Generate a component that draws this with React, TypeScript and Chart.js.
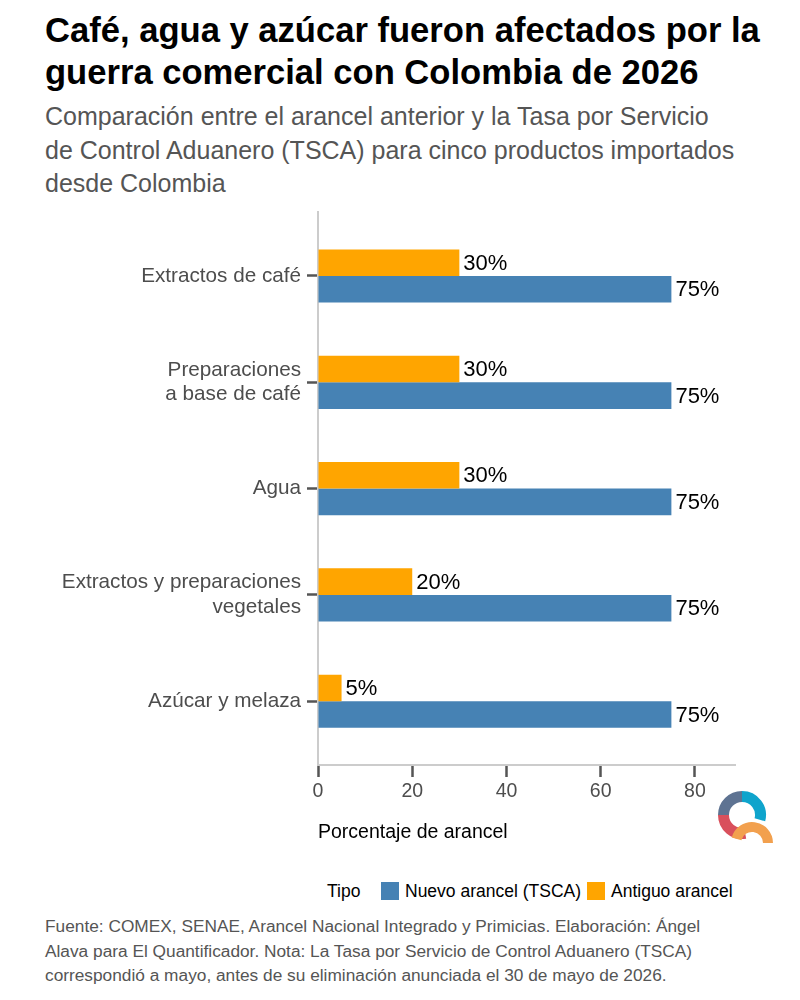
import React, { useEffect, useRef } from "react";
import { Chart, registerables } from "chart.js";

Chart.register(...registerables);

// Product categories (multi-line tick labels) and tariff values in percent
const categories: string[][] = [
  ["Extractos de café"],
  ["Preparaciones", "a base de café"],
  ["Agua"],
  ["Extractos y preparaciones", "vegetales"],
  ["Azúcar y melaza"],
];
const newTariff = [75, 75, 75, 75, 75];
const oldTariff = [30, 30, 30, 20, 5];
const xTicks = [0, 20, 40, 60, 80];
const seriesNames = ["Nuevo arancel (TSCA)", "Antiguo arancel"];
const seriesColors = ["#4682B4", "#FFA500"];

const FONT = "'Liberation Sans', Arial, Helvetica, sans-serif";

const titleLines = [
  "Café, agua y azúcar fueron afectados por la",
  "guerra comercial con Colombia de 2026",
];
const subtitleLines = [
  "Comparación entre el arancel anterior y la Tasa por Servicio",
  "de Control Aduanero (TSCA) para cinco productos importados",
  "desde Colombia",
];
const captionLines = [
  "Fuente: COMEX, SENAE, Arancel Nacional Integrado y Primicias. Elaboración: Ángel",
  "Alava para El Quantificador. Nota: La Tasa por Servicio de Control Aduanero (TSCA)",
  "correspondió a mayo, antes de su eliminación anunciada el 30 de mayo de 2026.",
];

// Writes "NN%" just past the end of each bar
const valueLabels = {
  id: "valueLabels",
  afterDatasetsDraw(chart: any) {
    const ctx = chart.ctx;
    ctx.save();
    ctx.font = `22px ${FONT}`;
    ctx.fillStyle = "#000";
    ctx.textAlign = "left";
    ctx.textBaseline = "middle";
    chart.data.datasets.forEach((ds: any, di: number) => {
      const meta = chart.getDatasetMeta(di);
      meta.data.forEach((bar: any, i: number) => {
        const v = ds.data[i].x;
        ctx.fillText(`${v}%`, bar.x + 4, bar.y + 1);
      });
    });
    ctx.restore();
  },
};

function Logo() {
  const pt = (a: number, rr: number, ox: number, oy: number) => {
    const t = (a * Math.PI) / 180;
    return `${ox + rr * Math.cos(t)} ${oy + rr * Math.sin(t)}`;
  };
  const arc = (a0: number, a1: number, rr: number, ox: number, oy: number) =>
    `M ${pt(a0, rr, ox, oy)} A ${rr} ${rr} 0 ${Math.abs(a1 - a0) > 180 ? 1 : 0} 1 ${pt(a1, rr, ox, oy)}`;
  const cx = 742;
  const cy = 815;
  const r = 18.5;
  return (
    <svg
      width={800}
      height={1000}
      style={{ position: "absolute", left: 0, top: 0, pointerEvents: "none" }}
    >
      <path d={arc(180, 270, r, cx, cy)} stroke="#5E7392" strokeWidth={11} fill="none" />
      <path d={arc(270, 375, r, cx, cy)} stroke="#0FA4CC" strokeWidth={11} fill="none" />
      <path d={arc(80, 180, r, cx, cy)} stroke="#D9505C" strokeWidth={11} fill="none" />
      <path d={arc(195, 360, 16, 752, 843)} stroke="#F2A04E" strokeWidth={10} fill="none" />
    </svg>
  );
}

export default function App() {
  const canvasRef = useRef<HTMLCanvasElement | null>(null);

  useEffect(() => {
    document.body.style.margin = "0";
    const canvas = canvasRef.current;
    if (!canvas) return;

    const chart = new Chart(canvas, {
      type: "bar",
      data: {
        datasets: [
          {
            label: seriesNames[1],
            data: oldTariff.map((v, i) => ({ x: v, y: i })),
            backgroundColor: seriesColors[1],
            borderWidth: 0,
          },
          {
            label: seriesNames[0],
            data: newTariff.map((v, i) => ({ x: v, y: i })),
            backgroundColor: seriesColors[0],
            borderWidth: 0,
          },
        ],
      },
      options: {
        indexAxis: "y",
        responsive: false,
        animation: false,
        maintainAspectRatio: false,
        categoryPercentage: 0.5,
        barPercentage: 1,
        layout: { padding: { top: 0, right: 65, left: 0, bottom: 0 } },
        plugins: {
          legend: { display: false },
          tooltip: { enabled: false },
          title: { display: false },
        },
        scales: {
          x: {
            type: "linear",
            position: "bottom",
            min: 0,
            max: 88.5,
            offset: false,
            afterBuildTicks: (s: any) => {
              s.ticks = xTicks.map((v) => ({ value: v }));
            },
            afterFit: (s: any) => {
              s.height = 55;
            },
            grid: {
              offset: false,
              drawOnChartArea: false,
              drawTicks: true,
              tickLength: 12,
              tickWidth: 2.5,
              tickColor: "#555",
            },
            border: { display: true, color: "#cccccc", width: 2 },
            ticks: {
              color: "#4d4d4d",
              font: { family: FONT, size: 19.5 },
              padding: 3,
              maxRotation: 0,
            },
          },
          y: {
            type: "linear",
            min: -0.6,
            max: 4.6,
            reverse: true,
            offset: false,
            z: 1,
            afterBuildTicks: (s: any) => {
              s.ticks = categories.map((_, i) => ({ value: i }));
            },
            afterFit: (s: any) => {
              s.width = 318;
            },
            grid: {
              offset: false,
              drawOnChartArea: false,
              drawTicks: true,
              tickLength: 11,
              tickWidth: 2.5,
              tickColor: "#555",
            },
            border: { display: true, color: "#cccccc", width: 2 },
            ticks: {
              color: "#4d4d4d",
              font: { family: FONT, size: 20.7, lineHeight: 1.18 },
              padding: 6,
              callback: (v: any) => categories[v] ?? "",
            },
          },
        },
      } as any,
      plugins: [valueLabels],
    });

    return () => chart.destroy();
  }, []);

  return (
    <div
      style={{
        position: "relative",
        width: 800,
        height: 1000,
        background: "#fff",
        fontFamily: FONT,
        overflow: "hidden",
      }}
    >
      <div
        style={{
          position: "absolute",
          left: 45,
          top: 9,
          fontSize: 34.6,
          lineHeight: "42px",
          fontWeight: 700,
          color: "#000",
          whiteSpace: "nowrap",
        }}
      >
        {titleLines.map((l) => (
          <div key={l}>{l}</div>
        ))}
      </div>
      <div
        style={{
          position: "absolute",
          left: 45,
          top: 100,
          fontSize: 25,
          lineHeight: "33.5px",
          color: "#555",
          whiteSpace: "nowrap",
        }}
      >
        {subtitleLines.map((l) => (
          <div key={l}>{l}</div>
        ))}
      </div>

      <canvas
        ref={canvasRef}
        width={800}
        height={626}
        style={{ position: "absolute", left: 0, top: 194, width: 800, height: 626 }}
      />

      <div
        style={{
          position: "absolute",
          left: 318,
          top: 819,
          fontSize: 19.5,
          lineHeight: "24px",
          color: "#000",
          whiteSpace: "nowrap",
        }}
      >
        Porcentaje de arancel
      </div>

      <div
        style={{
          position: "absolute",
          left: 327,
          top: 879,
          height: 24,
          fontSize: 17.5,
          lineHeight: "24px",
          color: "#000",
          whiteSpace: "nowrap",
        }}
      >
        Tipo
      </div>
      {seriesNames.map((name, i) => {
        const left = i === 0 ? 381 : 587;
        return (
          <React.Fragment key={name}>
            <div
              style={{
                position: "absolute",
                left,
                top: 882,
                width: 18,
                height: 18,
                background: seriesColors[i],
              }}
            />
            <div
              style={{
                position: "absolute",
                left: left + 24,
                top: 879,
                fontSize: 17.5,
                lineHeight: "24px",
                color: "#000",
                whiteSpace: "nowrap",
              }}
            >
              {name}
            </div>
          </React.Fragment>
        );
      })}

      <div
        style={{
          position: "absolute",
          left: 45,
          top: 914,
          fontSize: 17.3,
          lineHeight: "24.5px",
          color: "#555",
          whiteSpace: "nowrap",
        }}
      >
        {captionLines.map((l) => (
          <div key={l}>{l}</div>
        ))}
      </div>

      <Logo />
    </div>
  );
}
